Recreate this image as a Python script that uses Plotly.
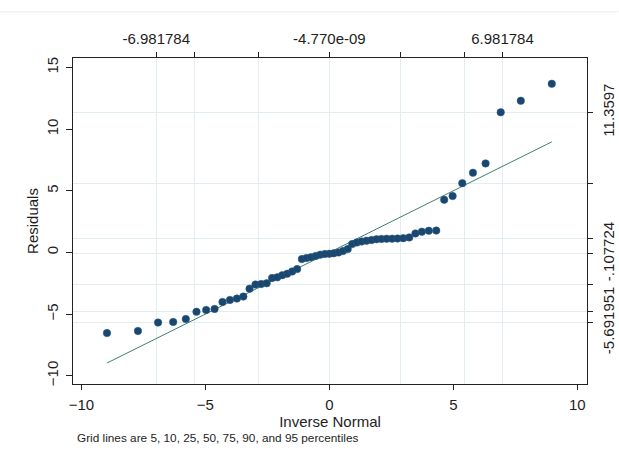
import plotly.graph_objects as go

# Inverse-normal quantiles (x) and sorted residuals (y)
q_x = [-8.97, -7.72, -6.91, -6.30, -5.79, -5.36, -4.97, -4.63, -4.31, -4.01,
       -3.73, -3.47, -3.22, -2.98, -2.75, -2.53, -2.31, -2.10, -1.90, -1.70,
       -1.50, -1.30, -1.11, -0.92, -0.74, -0.55, -0.37, -0.18, 0.00,
       0.18, 0.37, 0.55, 0.74, 0.92, 1.11, 1.30, 1.50, 1.70, 1.90,
       2.10, 2.31, 2.53, 2.75, 2.98, 3.22, 3.47, 3.73, 4.01, 4.31,
       4.63, 4.97, 5.36, 5.79, 6.30, 6.91, 7.72, 8.97]
resid = [-6.54, -6.37, -5.69, -5.64, -5.40, -4.81, -4.67, -4.59, -4.02, -3.85,
         -3.74, -3.58, -2.94, -2.60, -2.56, -2.50, -2.08, -2.02, -1.84, -1.73,
         -1.54, -1.35, -0.54, -0.45, -0.38, -0.28, -0.18, -0.13, -0.108,
         -0.07, 0.00, 0.11, 0.27, 0.68, 0.81, 0.89, 0.95, 1.00, 1.07,
         1.10, 1.11, 1.12, 1.13, 1.16, 1.22, 1.54, 1.68, 1.76, 1.77,
         4.27, 4.57, 5.62, 6.46, 7.22, 11.36, 12.30, 13.68]

# Grid percentiles (5,10,25,50,75,90,95)
norm_pct = [-6.981784, -5.4395, -2.8629, 0.0, 2.8629, 5.4395, 6.981784]
norm_lbl = ["-6.981784", "", "", "-4.770e-09", "", "", "6.981784"]
resid_pct = [-5.691951, -4.81, -2.56, -0.107724, 1.13, 5.62, 11.3597]
resid_lbl = ["-5.691951", "", "", "-.107724", "", "", "11.3597"]

x_ticks = [-10, -5, 0, 5, 10]
y_ticks = [-10, -5, 0, 5, 10, 15]

FONT = "Liberation Sans, Arial, sans-serif"
GRID = "#e3ecee"
TXT = "#1e1e1e"
FS = 15

line_x = [q_x[0], q_x[-1]]
line_y = [q_x[0], q_x[-1]]

fig = go.Figure()
fig.add_trace(go.Scatter(x=line_x, y=line_y, mode="lines",
                         line=dict(color="#3f7f70", width=1), showlegend=False,
                         hoverinfo="skip"))
fig.add_trace(go.Scatter(x=q_x, y=resid, mode="markers",
                         marker=dict(color="#1a476f", size=7.5,
                                     line=dict(color="#2a5a80", width=0.5)),
                         showlegend=False))
# invisible trace to activate secondary axes
fig.add_trace(go.Scatter(x=[norm_pct[0]], y=[resid_pct[0]], xaxis="x2", yaxis="y2",
                         mode="markers", marker=dict(opacity=0), showlegend=False,
                         hoverinfo="skip"))

xr = [-10.34, 10.39]
yr = [-10.67, 15.77]
tf = dict(family=FONT, size=FS, color=TXT)

fig.update_layout(
    width=619, height=461,
    margin=dict(l=73, r=32, t=58, b=77),
    paper_bgcolor="white", plot_bgcolor="white",
    font=dict(family=FONT, size=FS, color=TXT),
    xaxis=dict(range=xr, tickvals=x_ticks, ticks="outside", ticklen=5,
               tickcolor="#222", showgrid=False, zeroline=False, automargin=False,
               tickfont=tf, ticklabelstandoff=2,
               showline=True, linecolor="#222", linewidth=1, mirror=True,
               title=dict(text="Inverse Normal", standoff=0, font=tf)),
    xaxis2=dict(range=xr, overlaying="x", side="top", tickvals=norm_pct,
                ticktext=norm_lbl, ticks="outside", ticklen=5, tickcolor="#222",
                tickfont=tf, ticklabelstandoff=2, automargin=False,
                showgrid=True, gridcolor=GRID, gridwidth=1, zeroline=False,
                showline=False),
    yaxis=dict(range=yr, tickvals=y_ticks, ticks="outside", ticklen=6,
               tickcolor="#222", tickangle=-90, showgrid=False, zeroline=False,
               tickfont=tf, automargin=False, ticklabelstandoff=2,
               showline=True, linecolor="#222", linewidth=1, mirror=True,
               title=dict(text="Residuals", standoff=1, font=tf)),
    yaxis2=dict(range=yr, overlaying="y", side="right", tickvals=resid_pct,
                ticktext=resid_lbl, ticks="outside", ticklen=5, tickcolor="#222",
                tickangle=-90, showgrid=True, gridcolor=GRID, gridwidth=1,
                tickfont=tf, automargin=False, ticklabelstandoff=3,
                zeroline=False, showline=False),
    annotations=[dict(text="Grid lines are 5, 10, 25, 50, 75, 90, and 95 percentiles",
                      xref="paper", yref="paper", x=0.004, y=-0.166,
                      xanchor="left", yanchor="middle", showarrow=False,
                      font=dict(size=11.8, family=FONT, color=TXT))],
    shapes=[dict(type="line", xref="paper", yref="paper", x0=-0.142, x1=1.062,
                 y0=1.1417, y1=1.1417, line=dict(color="#e8eeee", width=1))],
)

fig.update_layout(xaxis2_layer="below traces", yaxis2_layer="below traces")

fig.write_html("out.html", config={"displayModeBar": False},
               post_script="document.body.style.margin='0';document.body.style.padding='0';")
